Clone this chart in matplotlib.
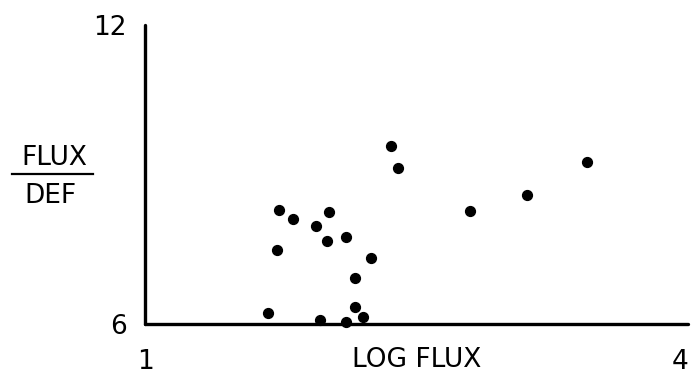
import matplotlib.pyplot as plt
from matplotlib.lines import Line2D

# log flux vs flux/def
log_flux = [1.69, 1.75, 1.74, 1.83, 1.96, 2.03, 2.02, 2.13, 2.27, 2.18,
            2.18, 2.22, 1.98, 2.13, 2.38, 2.42, 2.82, 3.14, 3.48]
flux_def = [6.22, 8.28, 7.49, 8.10, 7.97, 8.25, 7.67, 7.74, 7.33, 6.92,
            6.34, 6.14, 6.09, 6.05, 9.58, 9.13, 8.27, 8.58, 9.25]
x_ticks = [1, 4]
y_ticks = [6, 12]

W, H = 695, 379
fig = plt.figure(figsize=(W / 100, H / 100), dpi=100)
# axes box in pixels: left 145, bottom 324, right 688, top 25
ax = fig.add_axes([145 / W, (H - 324) / H, (688 - 145) / W, (324 - 25) / H])

ax.scatter(log_flux, flux_def, s=50, color='black', zorder=3, clip_on=False)

ax.set_xlim(1, 1 + (688 - 145) / 178.3)
ax.set_ylim(6, 12)
for side in ['top', 'right']:
    ax.spines[side].set_visible(False)
for side in ['left', 'bottom']:
    ax.spines[side].set_linewidth(2.4)
    ax.spines[side].set_capstyle('round')

ax.set_xticks(x_ticks)
ax.set_xticklabels([str(v) for v in x_ticks])
ax.set_yticks(y_ticks)
ax.set_yticklabels([str(v) for v in y_ticks])
ax.tick_params(length=0, labelsize=19)
ax.tick_params(axis='x', pad=18)
ax.tick_params(axis='y', pad=13)

ax.text((417 - 145) / 543, -(360 - 324) / 299, 'LOG FLUX', transform=ax.transAxes,
        ha='center', va='center', fontsize=19)

# fraction label on the left
fig.text(54 / W, 1 - 158 / H, 'FLUX', ha='center', va='center', fontsize=19)
fig.text(50 / W, 1 - 196 / H, 'DEF', ha='center', va='center', fontsize=19)
fig.add_artist(Line2D([12 / W, 93 / W], [1 - 174 / H, 1 - 174 / H],
                      transform=fig.transFigure, color='black', lw=1.6))

fig.savefig('out.png', dpi=100)
